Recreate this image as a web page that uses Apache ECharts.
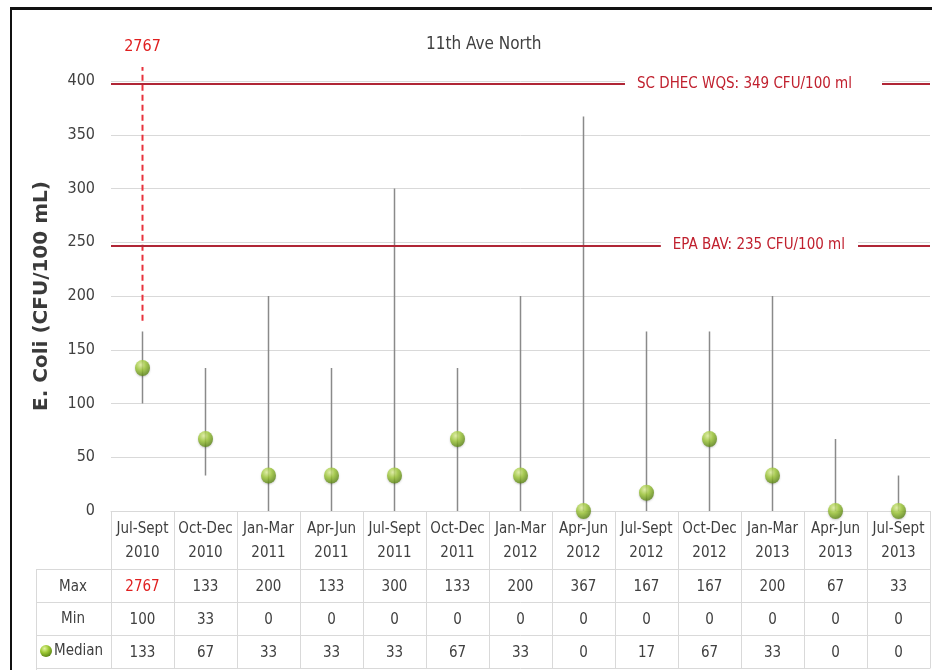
<!DOCTYPE html>
<html>
<head>
<meta charset="utf-8">
<title>11th Ave North</title>
<script src="https://cdn.jsdelivr.net/npm/echarts@6/dist/echarts.min.js"></script>
<style>
  html, body { margin: 0; padding: 0; background: #fff; }
  #main { width: 932px; height: 670px; }
</style>
</head>
<body>
<div id="main"></div>
<script>
// 数据
var categories = ['Jul-Sept\n2010', 'Oct-Dec\n2010', 'Jan-Mar\n2011', 'Apr-Jun\n2011', 'Jul-Sept\n2011',
  'Oct-Dec\n2011', 'Jan-Mar\n2012', 'Apr-Jun\n2012', 'Jul-Sept\n2012', 'Oct-Dec\n2012',
  'Jan-Mar\n2013', 'Apr-Jun\n2013', 'Jul-Sept\n2013'];
var maxValues = [2767, 133, 200, 133, 300, 133, 200, 367, 167, 167, 200, 67, 33];
var minValues = [100, 33, 0, 0, 0, 0, 0, 0, 0, 0, 0, 0, 0];
var medianValues = [133, 67, 33, 33, 33, 67, 33, 0, 17, 67, 33, 0, 0];
var rowNames = ['Max', 'Min', 'Median'];
var yMin = 0, yMax = 400, yStep = 50;
// 标准线 (drawn where the picture puts them)
var wqsValue = 397, wqsText = 'SC DHEC WQS: 349 CFU/100 ml';
var epaValue = 247, epaText = 'EPA BAV: 235 CFU/100 ml';
// off-scale whisker of the first quarter
var stubTop = 167, dashFrom = 177, dashTo = 413;

var narrow = "'DejaVu Sans Condensed', 'Liberation Sans Narrow', sans-serif";
var textColor = '#404040';
var lineRed = '#b02636';
var gridGray = '#d9d9d9';

var rangeData = categories.map(function (c, i) { return [i, minValues[i], maxValues[i]]; });

function tableAxis(data, offset, tickLen, margin, colorFn) {
  return {
    type: 'category', gridIndex: 0, position: 'bottom', offset: offset,
    data: data, boundaryGap: true,
    axisLine: { show: true, lineStyle: { color: gridGray, width: 1 } },
    axisTick: { show: true, interval: 0, length: tickLen, lineStyle: { color: gridGray, width: 1 } },
    axisLabel: { interval: 0, margin: margin, fontSize: 15, lineHeight: 18, fontFamily: narrow, color: colorFn || textColor },
    splitLine: { show: false }
  };
}

var greenBall = function () {
  return new echarts.graphic.RadialGradient(0.38, 0.3, 0.75, [
    { offset: 0, color: '#e4f5a0' },
    { offset: 0.45, color: '#9fca36' },
    { offset: 1, color: '#557f12' }
  ]);
};

var myChart = echarts.init(document.getElementById('main'));
myChart.setOption({
  backgroundColor: '#fff',
  animation: false,
  title: {
    text: '11th Ave North', left: 421, top: 31,
    textStyle: { fontFamily: narrow, fontSize: 17, fontWeight: 'normal', color: textColor }
  },
  grid: { left: 111, right: 2, top: 81, bottom: 159 },
  xAxis: [
    {
      type: 'category', data: categories, position: 'bottom', boundaryGap: true,
      axisLine: { show: true, lineStyle: { color: gridGray, width: 1 } },
      axisTick: { show: true, interval: 0, length: 58, lineStyle: { color: gridGray } },
      axisLabel: { interval: 0, margin: 6, fontSize: 15, lineHeight: 24, fontFamily: narrow, color: textColor },
      splitLine: { show: false }
    },
    tableAxis(maxValues.map(String), 58, 33, 9, function (v, i) { return maxValues[i] > yMax ? '#e02020' : textColor; }),
    tableAxis(minValues.map(String), 91, 33, 9),
    tableAxis(medianValues.map(String), 124, 33, 9),
    {
      type: 'category', position: 'bottom', offset: 157, data: categories,
      axisLine: { show: true, lineStyle: { color: gridGray } },
      axisTick: { show: false }, axisLabel: { show: false }
    }
  ],
  yAxis: {
    type: 'value', min: yMin, max: yMax, interval: yStep,
    name: 'E. Coli (CFU/100 mL)', nameLocation: 'middle', nameGap: 59, nameRotate: 90,
    nameTextStyle: { fontFamily: 'DejaVu Sans', fontWeight: 'bold', fontSize: 20, color: '#3a3a3a' },
    axisLine: { show: false }, axisTick: { show: false },
    axisLabel: { margin: 16, fontSize: 16, fontFamily: narrow, color: textColor },
    splitLine: { lineStyle: { color: gridGray, width: 1 } }
  },
  series: [
    {
      // 最小值到最大值的竖线
      type: 'custom',
      data: rangeData,
      z: 2,
      renderItem: function (params, api) {
        var i = api.value(0), lo = api.value(1), hi = api.value(2);
        var x = api.coord([i, lo])[0];
        var yLo = api.coord([i, lo])[1];
        var children = [];
        var top = hi > yMax ? stubTop : hi;
        children.push({
          type: 'line',
          shape: { x1: x, y1: yLo, x2: x, y2: api.coord([i, top])[1] },
          style: { stroke: '#8a8a8a', lineWidth: 1.5 }
        });
        if (hi > yMax) {
          var yTop = api.coord([i, dashTo])[1];
          children.push({
            type: 'line',
            shape: { x1: x, y1: api.coord([i, dashFrom])[1], x2: x, y2: yTop },
            style: { stroke: '#e8323c', lineWidth: 2, lineDash: [6, 4] }
          });
          children.push({
            type: 'text',
            style: {
              x: x, y: yTop - 12, text: String(hi), textAlign: 'center', textVerticalAlign: 'bottom',
              fill: '#e02020', font: '16px ' + narrow
            }
          });
        }
        return { type: 'group', children: children };
      }
    },
    {
      // 中位数
      type: 'scatter',
      data: medianValues,
      z: 5,
      symbol: 'circle',
      symbolSize: [15, 16],
      itemStyle: {
        color: greenBall(),
        shadowColor: 'rgba(0,0,0,0.25)', shadowBlur: 2, shadowOffsetY: 1
      },
      markLine: {
        silent: true,
        symbol: 'none',
        lineStyle: { color: lineRed, width: 2, type: 'solid' },
        data: [
          {
            yAxis: wqsValue,
            label: {
              formatter: wqsText, position: 'insideEnd', distance: [48, 0],
              fontFamily: narrow, fontSize: 15, color: '#c0202e',
              backgroundColor: '#fff', padding: [2, 30, 2, 12]
            }
          },
          {
            yAxis: epaValue,
            label: {
              formatter: epaText, position: 'insideEnd', distance: [72, 0],
              fontFamily: narrow, fontSize: 15, color: '#c0202e',
              backgroundColor: '#fff', padding: [2, 13, 2, 12]
            }
          }
        ]
      }
    }
  ],
  graphic: [
    // 外框
    { type: 'rect', shape: { x: 10, y: 7, width: 922, height: 3 }, style: { fill: '#111' } },
    { type: 'rect', shape: { x: 10, y: 7, width: 2, height: 663 }, style: { fill: '#111' } },
    // 行标题列
    { type: 'line', shape: { x1: 36, y1: 569.5, x2: 111, y2: 569.5 }, style: { stroke: gridGray } },
    { type: 'line', shape: { x1: 36, y1: 602.5, x2: 111, y2: 602.5 }, style: { stroke: gridGray } },
    { type: 'line', shape: { x1: 36, y1: 635.5, x2: 111, y2: 635.5 }, style: { stroke: gridGray } },
    { type: 'line', shape: { x1: 36, y1: 668.5, x2: 111, y2: 668.5 }, style: { stroke: gridGray } },
    { type: 'line', shape: { x1: 36.5, y1: 569, x2: 36.5, y2: 670 }, style: { stroke: gridGray } },
    { type: 'text', style: { x: 73, y: 587, text: rowNames[0], textAlign: 'center', textVerticalAlign: 'middle', font: '15px ' + narrow, fill: textColor } },
    { type: 'text', style: { x: 73, y: 619, text: rowNames[1], textAlign: 'center', textVerticalAlign: 'middle', font: '15px ' + narrow, fill: textColor } },
    { type: 'text', style: { x: 54, y: 651, text: rowNames[2], textAlign: 'left', textVerticalAlign: 'middle', font: '15px ' + narrow, fill: textColor } },
    { type: 'circle', shape: { cx: 46, cy: 651, r: 6 }, style: { fill: greenBall() } }
  ]
});
</script>
</body>
</html>
